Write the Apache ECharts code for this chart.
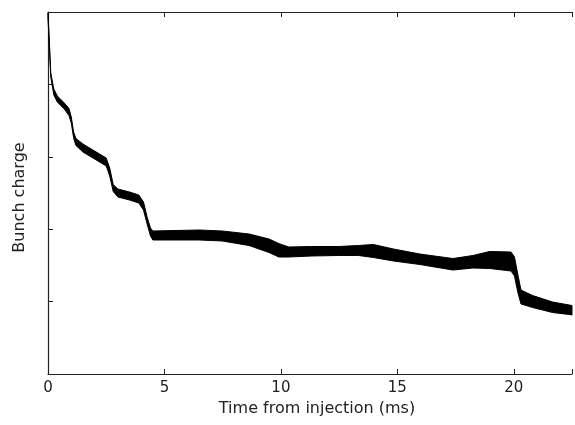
<!DOCTYPE html>
<html>
<head>
<meta charset="utf-8">
<script src="https://cdn.jsdelivr.net/npm/echarts@6/dist/echarts.min.js"></script>
<style>
html,body{margin:0;padding:0;background:#fff;}
#chart{width:575px;height:425px;}
</style>
</head>
<body>
<div id="chart"></div>
<script>
// Time from injection (ms)
const time = [0, 0.05, 0.12, 0.25, 0.4, 0.7, 0.9, 1.0, 1.1, 1.2, 1.5, 2.0, 2.5, 2.65, 2.8, 3.0, 3.5, 3.9, 4.1, 4.25, 4.4,
  4.5, 6.5, 7.48, 8.63, 9.49, 9.91, 10.34, 11.32, 12.48, 13.33,
  13.97, 14.83, 15.97, 17.39, 18.25, 18.96, 19.88, 20.03, 20.17, 20.31, 20.81, 21.67, 22.38, 22.5];
// Upper edge of the noisy band (arbitrary units)
const upper = [4.986, 4.641, 4.157, 3.936, 3.840, 3.743, 3.667, 3.550, 3.343, 3.253, 3.177, 3.080, 2.983, 2.845, 2.617, 2.555, 2.514, 2.472, 2.376, 2.175, 2.017,
  1.975, 1.989, 1.975, 1.934, 1.865, 1.802, 1.754, 1.761, 1.761, 1.775,
  1.789, 1.727, 1.657, 1.595, 1.637, 1.692, 1.685, 1.616, 1.381, 1.160, 1.084, 0.994, 0.953, 0.946];
// Lower edge of the noisy band
const lower = [4.903, 4.586, 4.102, 3.854, 3.757, 3.660, 3.570, 3.467, 3.260, 3.156, 3.066, 2.970, 2.873, 2.735, 2.521, 2.445, 2.403, 2.362, 2.265, 2.079, 1.906,
  1.851, 1.851, 1.837, 1.775, 1.678, 1.616, 1.616, 1.630, 1.637, 1.637,
  1.609, 1.561, 1.512, 1.436, 1.464, 1.457, 1.423, 1.354, 1.133, 0.967, 0.918, 0.849, 0.822, 0.815];
const xTicks = [0, 5, 10, 15, 20];

const chart = echarts.init(document.getElementById('chart'), null, {renderer: 'canvas'});
const font = 'DejaVu Sans, sans-serif';
const axisCommon = {
  axisLine: {show: true, onZero: false, lineStyle: {color: '#222', width: 1.2}},
  axisTick: {show: true, inside: true, length: 5, lineStyle: {color: '#222', width: 1}},
  splitLine: {show: false}
};
chart.setOption({
  animation: false,
  backgroundColor: '#fff',
  grid: {left: 48, right: -1, top: 12, bottom: 51},
  xAxis: [
    Object.assign({
      type: 'value', position: 'bottom', min: 0, max: 22.5, interval: 5,
      name: 'Time from injection (ms)', nameLocation: 'middle', nameGap: 26,
      nameTextStyle: {fontFamily: font, fontSize: 16, color: '#222', padding: [0, 0, 0, 14]},
      axisLabel: {fontFamily: font, fontSize: 15, color: '#222', margin: 7,
        formatter: v => xTicks.includes(v) ? String(v) : ''}
    }, axisCommon),
    Object.assign({
      type: 'value', position: 'top', min: 0, max: 22.5, interval: 5,
      axisLabel: {show: false}
    }, axisCommon)
  ],
  yAxis: [
    Object.assign({
      type: 'value', min: 0, max: 5, interval: 1,
      name: 'Bunch charge', nameLocation: 'middle', nameGap: 20, nameRotate: 90,
      nameTextStyle: {fontFamily: font, fontSize: 16, color: '#222', padding: [0, 9, 0, 0]},
      axisLabel: {show: false}
    }, axisCommon)
  ],
  series: [{
    type: 'custom',
    coordinateSystem: 'cartesian2d',
    xAxisIndex: 0, yAxisIndex: 0,
    data: [[0, 0]],
    silent: true,
    renderItem: function (params, api) {
      const pts = [];
      for (let i = 0; i < time.length; i++) pts.push(api.coord([time[i], upper[i]]));
      for (let i = time.length - 1; i >= 0; i--) pts.push(api.coord([time[i], lower[i]]));
      return {
        type: 'polygon',
        shape: {points: pts},
        style: {fill: '#000', stroke: '#000', lineWidth: 1}
      };
    }
  }]
});
</script>
</body>
</html>
